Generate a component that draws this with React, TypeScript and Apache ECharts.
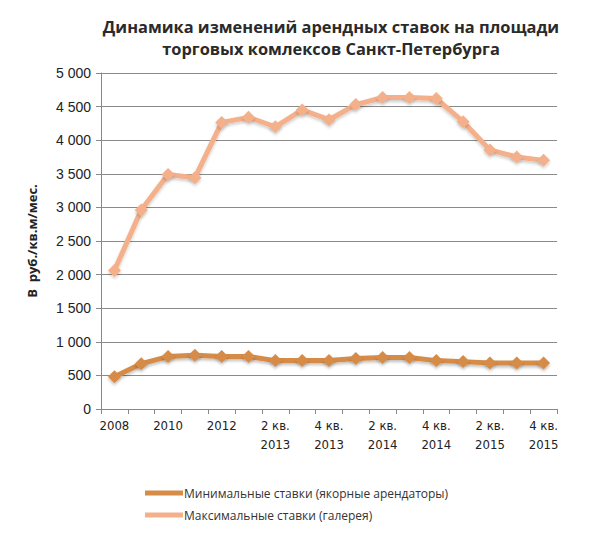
import React, { useEffect, useRef } from "react";
import * as echarts from "echarts";

const categories = [
  "2008", "2009", "2010", "2011", "2012",
  "1 кв.\n2013", "2 кв.\n2013", "3 кв.\n2013", "4 кв.\n2013",
  "1 кв.\n2014", "2 кв.\n2014", "3 кв.\n2014", "4 кв.\n2014",
  "1 кв.\n2015", "2 кв.\n2015", "3 кв.\n2015", "4 кв.\n2015",
];
const minRates = [480, 675, 780, 800, 780, 780, 720, 720, 720, 750, 765, 765, 720, 705, 685, 685, 685];
const maxRates = [2060, 2960, 3490, 3440, 4265, 4340, 4200, 4450, 4305, 4530, 4635, 4635, 4620, 4275, 3855, 3750, 3700];
const minName = "Минимальные ставки (якорные арендаторы)";
const maxName = "Максимальные ставки (галерея)";

export default function App() {
  const ref = useRef<HTMLDivElement>(null);
  useEffect(() => {
    if (!ref.current) return;
    const chart = echarts.init(ref.current, null, { renderer: "svg" });
    const fmt = (v: number) => (v >= 1000 ? `${Math.floor(v / 1000)} ${String(v % 1000).padStart(3, "0")}` : String(v));
    chart.setOption({
      animation: false,
      backgroundColor: "#ffffff",
      title: {
        text: "Динамика изменений арендных ставок на площади\nторговых комлексов Санкт-Петербурга",
        left: 326,
        top: 10,
        textAlign: "center",
        textStyle: { fontFamily: "Open Sans", fontWeight: "bold", fontSize: 16.4, lineHeight: 22, color: "#2a2a2a" },
      },
      grid: { left: 101, right: 43, top: 73, bottom: 127, containLabel: false },
      legend: {
        orient: "vertical",
        left: 140,
        top: 482,
        itemGap: 10,
        itemWidth: 38,
        itemHeight: 5,
        icon: "rect",
        textStyle: { fontFamily: "Open Sans", fontSize: 12, color: "#333", padding: [0, 0, 0, -4] },
        data: [minName, maxName],
      },
      xAxis: {
        type: "category",
        data: categories,
        boundaryGap: true,
        axisLine: { lineStyle: { color: "#888", width: 1 } },
        axisTick: { show: true, length: 5, interval: 0, lineStyle: { color: "#888" } },
        axisLabel: {
          interval: 1,
          color: "#222",
          fontFamily: "DejaVu Sans Condensed",
          fontSize: 13,
          lineHeight: 19,
          margin: 7,
        },
        splitLine: { show: false },
      },
      yAxis: {
        type: "value",
        min: 0,
        max: 5000,
        interval: 500,
        name: "В  руб./кв.м/мес.",
        nameLocation: "middle",
        nameGap: 63,
        nameRotate: 90,
        nameTextStyle: { fontFamily: "Open Sans", fontWeight: "bold", fontSize: 13, color: "#222" },
        axisLine: { show: true, lineStyle: { color: "#888" } },
        axisTick: { show: true, length: 5, lineStyle: { color: "#888" } },
        axisLabel: { formatter: fmt, color: "#222", fontFamily: "Liberation Sans", fontSize: 14, margin: 10 },
        splitLine: { show: true, lineStyle: { color: "#8a8a8a", width: 1 } },
      },
      series: [
        {
          name: minName,
          type: "line",
          data: minRates,
          color: "#d68b47",
          symbol: "diamond",
          symbolSize: 13,
          lineStyle: { width: 5, color: "#d68b47", shadowColor: "rgba(0,0,0,0.25)", shadowBlur: 3, shadowOffsetY: 2 },
          itemStyle: { color: "#d68b47", shadowColor: "rgba(0,0,0,0.25)", shadowBlur: 3, shadowOffsetY: 2 },
          z: 3,
        },
        {
          name: maxName,
          type: "line",
          data: maxRates,
          color: "#f4b08a",
          symbol: "diamond",
          symbolSize: 13,
          lineStyle: { width: 5, color: "#f4b08a", shadowColor: "rgba(0,0,0,0.2)", shadowBlur: 3, shadowOffsetY: 2 },
          itemStyle: { color: "#f4b08a", shadowColor: "rgba(0,0,0,0.2)", shadowBlur: 3, shadowOffsetY: 2 },
          z: 2,
        },
      ],
    });
    return () => chart.dispose();
  }, []);
  return <div ref={ref} style={{ width: 600, height: 536, margin: -8 }} />;
}
